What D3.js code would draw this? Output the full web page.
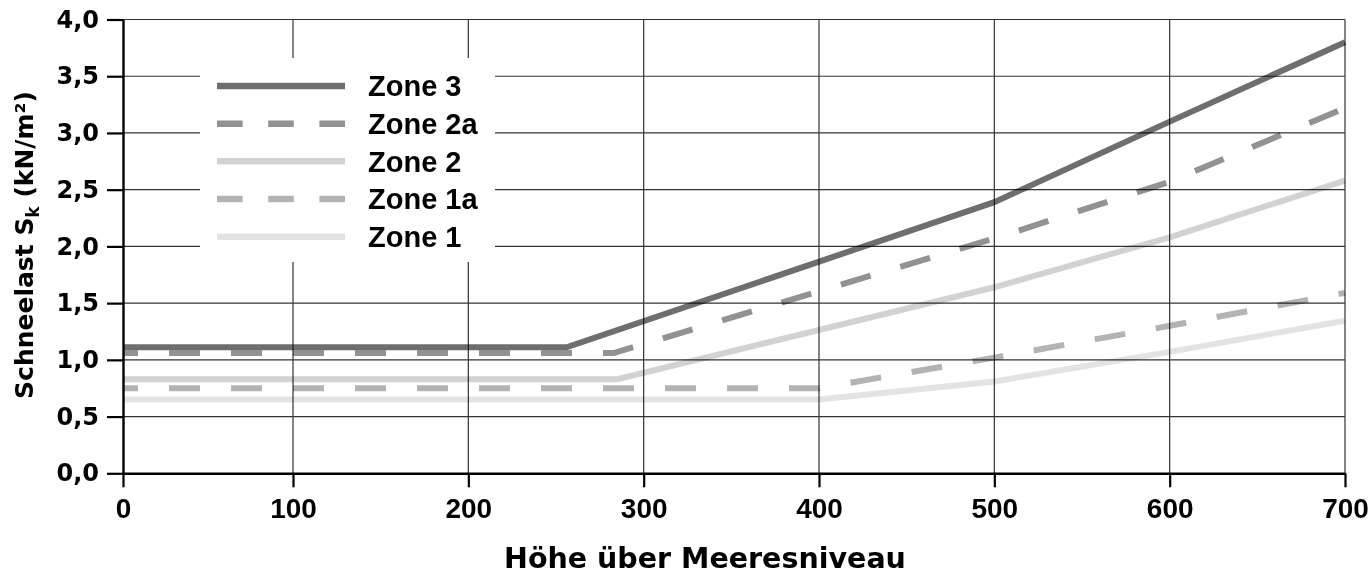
<!DOCTYPE html>
<html>
<head>
<meta charset="utf-8">
<script src="https://cdn.jsdelivr.net/npm/d3@7"></script>
<style>
  body { margin: 0; background: #fff; }
  .tick text { fill: #000; font-weight: bold; }
</style>
</head>
<body>
<svg id="chart" width="1372" height="585"></svg>
<script>
// data: [Höhe, s_k]
const zones = ["Zone 3", "Zone 2a", "Zone 2", "Zone 1a", "Zone 1"];
const zone3  = [[0, 1.11], [256, 1.11], [500, 2.39], [600, 3.10], [700, 3.80]];
const zone2a = [[0, 1.06], [283, 1.06], [500, 2.07], [600, 2.57], [700, 3.22]];
const zone2  = [[0, 0.83], [285, 0.83], [500, 1.64], [600, 2.08], [700, 2.58]];
const zone1a = [[0, 0.75], [400, 0.75], [500, 1.02], [600, 1.30], [700, 1.59]];
const zone1  = [[0, 0.65], [400, 0.65], [500, 0.81], [600, 1.07], [700, 1.345]];
const xTicks = [0, 100, 200, 300, 400, 500, 600, 700];
const yTicks = [0, 0.5, 1, 1.5, 2, 2.5, 3, 3.5, 4];

const series = [zone3, zone2a, zone2, zone1a, zone1];
const colors = ["#6e6e6e", "#929292", "#d2d2d2", "#b3b3b3", "#e3e3e3"];
const dashed = [false, true, false, true, false];

const svg = d3.select("#chart");
const plotLeft = 123, plotRight = 1345, plotTop = 19.5, plotBottom = 473.3;

// the original plot has a slightly narrower first interval
const x = d3.scaleLinear().domain([0, 100, 700]).range([plotLeft, 293, plotRight]);
const y = d3.scaleLinear().domain([0, 4]).range([plotBottom, plotTop]);

const de = d3.formatLocale({decimal: ",", thousands: ".", grouping: [3], currency: ["", "€"]});
const fmt = de.format(".1f");

// grid
const grid = svg.append("g").attr("class", "grid")
  .attr("stroke", "#333").attr("stroke-width", 1.2);
grid.selectAll("line.v").data(xTicks.slice(1)).join("line")
  .attr("class", "v")
  .attr("x1", d => x(d)).attr("x2", d => x(d))
  .attr("y1", plotTop).attr("y2", plotBottom);
grid.selectAll("line.h").data(yTicks.slice(1)).join("line")
  .attr("class", "h")
  .attr("x1", plotLeft).attr("x2", plotRight)
  .attr("y1", d => y(d)).attr("y2", d => y(d));

// legend box hides the grid behind it
svg.append("rect")
  .attr("x", 200).attr("y", 58).attr("width", 295).attr("height", 204)
  .attr("fill", "#fff");

// lines
const line = d3.line().x(d => x(d[0])).y(d => y(d[1]));
svg.append("g").style("mix-blend-mode", "multiply")
  .selectAll("path").data(series).join("path")
  .attr("d", line)
  .attr("fill", "none")
  .attr("stroke", (d, i) => colors[i])
  .attr("stroke-width", 6)
  .attr("stroke-dasharray", (d, i) => dashed[i] ? "31,31" : null)
  .attr("stroke-dashoffset", (d, i) => dashed[i] ? 16 : null);

// axes
const yAxis = svg.append("g")
  .attr("transform", "translate(" + plotLeft + ",0)")
  .call(d3.axisLeft(y).tickValues(yTicks).tickSize(16).tickSizeOuter(0)
    .tickPadding(8).tickFormat(fmt));
yAxis.selectAll("text")
  .style("font-family", "'DejaVu Sans', sans-serif")
  .style("font-size", "24px");

const xAxis = svg.append("g")
  .attr("transform", "translate(0," + plotBottom + ")")
  .call(d3.axisBottom(x).tickValues(xTicks).tickSize(14).tickSizeOuter(0)
    .tickPadding(11).tickFormat(d3.format("d")));
xAxis.selectAll("text")
  .style("font-family", "'Liberation Sans', Arial, sans-serif")
  .style("font-size", "28px");

svg.selectAll(".domain").attr("stroke", "#000").attr("stroke-width", 2.4);
svg.selectAll(".tick line").attr("stroke", "#000").attr("stroke-width", 2.2);

// legend
const legendY = d3.scaleLinear().domain([0, 4]).range([86, 236.7]);
const leg = svg.append("g").selectAll("g").data(zones).join("g")
  .attr("transform", (d, i) => "translate(0," + legendY(i) + ")");
leg.append("line")
  .attr("x1", 217).attr("x2", 345)
  .attr("stroke", (d, i) => colors[i])
  .attr("stroke-width", 6.5)
  .attr("stroke-dasharray", (d, i) => dashed[i] ? "25.6,25.6" : null);
leg.append("text")
  .attr("x", 368).attr("y", 10.4)
  .style("font-family", "'Liberation Sans', Arial, sans-serif")
  .style("font-size", "29px").style("font-weight", "bold")
  .text(d => d);

// axis titles
svg.append("text")
  .attr("x", 705).attr("y", 568)
  .attr("text-anchor", "middle")
  .style("font-family", "'DejaVu Sans', sans-serif")
  .style("font-size", "28.5px").style("font-weight", "bold")
  .text("Höhe über Meeresniveau");

const yt = svg.append("text")
  .attr("transform", "translate(33,245) rotate(-90)")
  .attr("text-anchor", "middle")
  .style("font-family", "'DejaVu Sans', sans-serif")
  .style("font-size", "25px").style("font-weight", "bold");
yt.append("tspan").text("Schneelast S");
yt.append("tspan").attr("dy", 6).style("font-size", "17px").text("k");
yt.append("tspan").attr("dy", -6).text(" (kN/m²)");
</script>
</body>
</html>
